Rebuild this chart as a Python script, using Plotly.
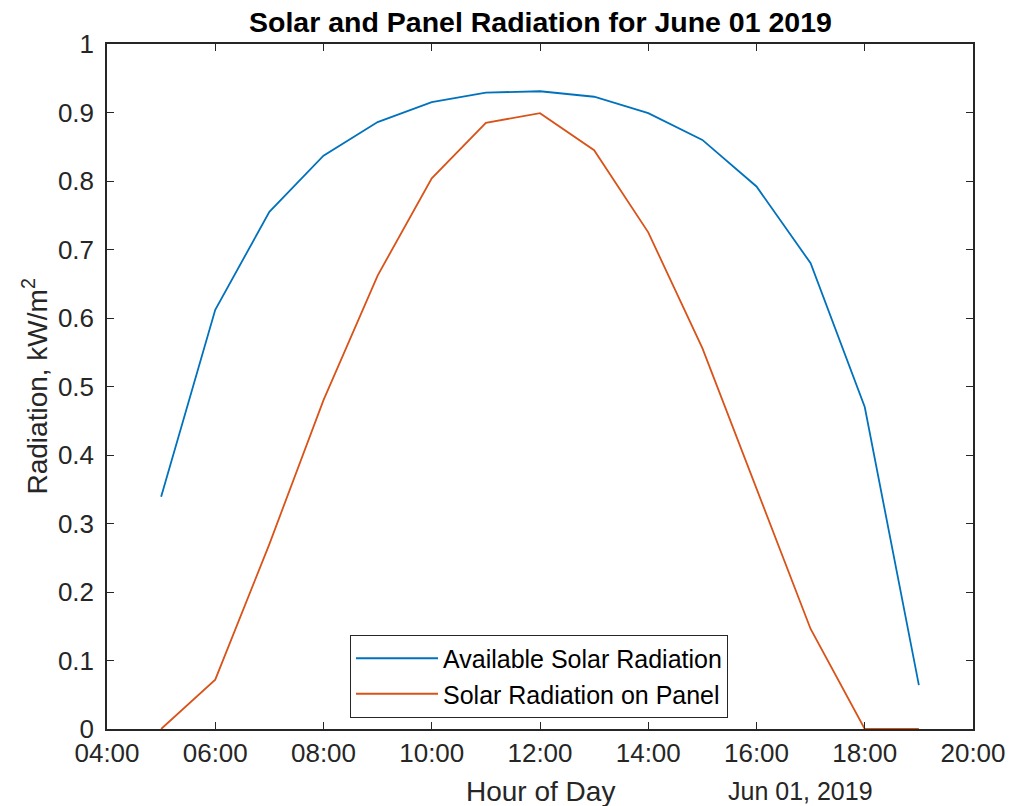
import plotly.graph_objects as go

hours = ["2019-06-01 %02d:00" % h for h in range(5, 20)]
available = [0.339, 0.612, 0.755, 0.837, 0.886, 0.915, 0.929, 0.931, 0.923, 0.899, 0.860, 0.792, 0.680, 0.470, 0.064]
panel = [0.0, 0.072, 0.270, 0.480, 0.662, 0.804, 0.885, 0.899, 0.845, 0.725, 0.556, 0.350, 0.146, 0.0, 0.0]
names = ["Available Solar Radiation", "Solar Radiation on Panel"]
colors = ["#0072BD", "#D95319"]
xtick_vals = ["2019-06-01 %02d:00" % h for h in range(4, 21, 2)]
xtick_text = ["%02d:00" % h for h in range(4, 21, 2)]
ytick_vals = [0, 0.1, 0.2, 0.3, 0.4, 0.5, 0.6, 0.7, 0.8, 0.9, 1]
ytick_text = ["0", "0.1", "0.2", "0.3", "0.4", "0.5", "0.6", "0.7", "0.8", "0.9", "1"]

FONT = "Liberation Sans, Arial, Helvetica, sans-serif"
AX = "#262626"
PH = 685.0  # plot height in px
PW = 866.0  # plot width in px

fig = go.Figure()
for ys, nm, c in zip([available, panel], names, colors):
    fig.add_trace(go.Scatter(x=hours, y=ys, mode="lines", name=nm,
                             line=dict(color=c, width=1.8)))

fig.update_layout(
    width=1009, height=806,
    margin=dict(l=107, r=36, t=44, b=77, autoexpand=False),
    paper_bgcolor="white", plot_bgcolor="white",
    font=dict(family=FONT, size=25, color=AX),
    showlegend=True,
    legend=dict(x=(350 - 107) / PW, y=(729 - 676) / PH, xanchor="left", yanchor="middle",
                bgcolor="white", bordercolor=AX, borderwidth=1,
                font=dict(family=FONT, size=25, color="black"),
                tracegroupgap=0, itemwidth=82),
    annotations=[
        dict(text="<b>Solar and Panel Radiation for June 01 2019</b>", x=0.5, y=1 + 22 / PH,
             xref="paper", yref="paper", showarrow=False,
             font=dict(family=FONT, size=28.5, color="black"), yanchor="middle"),
        dict(text="Hour of Day", x=0.5, y=-62 / PH, xref="paper", yref="paper",
             showarrow=False, font=dict(family=FONT, size=28, color=AX), yanchor="middle"),
        dict(text="Jun 01, 2019", x=(875 - 107) / PW, y=-62 / PH, xref="paper", yref="paper",
             showarrow=False, font=dict(family=FONT, size=25, color=AX), yanchor="middle"),
        dict(text="Radiation, kW/m<sup>2</sup>", x=(35 - 107) / PW, y=0.5, xref="paper", yref="paper",
             showarrow=False, textangle=-90, font=dict(family=FONT, size=28, color=AX),
             xanchor="center", yanchor="middle"),
    ],
)

fig.update_xaxes(
    type="date", range=["2019-06-01 04:00", "2019-06-01 20:00"],
    tickvals=xtick_vals, ticktext=xtick_text, automargin=False,
    ticks="inside", ticklen=7, tickwidth=1, tickcolor=AX,
    showline=True, linecolor=AX, linewidth=1.5, mirror="ticks",
    showgrid=False, zeroline=False, tickfont=dict(size=26, color=AX),
)
fig.update_yaxes(
    range=[0, 1], tickvals=ytick_vals, ticktext=ytick_text, automargin=False,
    ticks="inside", ticklen=7, tickwidth=1, tickcolor=AX,
    showline=True, linecolor=AX, linewidth=1.5, mirror="ticks",
    showgrid=False, zeroline=False, tickfont=dict(size=26, color=AX),
    ticklabelstandoff=6,
)

fig.write_html(
    "out.html",
    config={"displayModeBar": False},
    post_script="document.body.style.margin='0';document.body.style.overflow='hidden';",
)
